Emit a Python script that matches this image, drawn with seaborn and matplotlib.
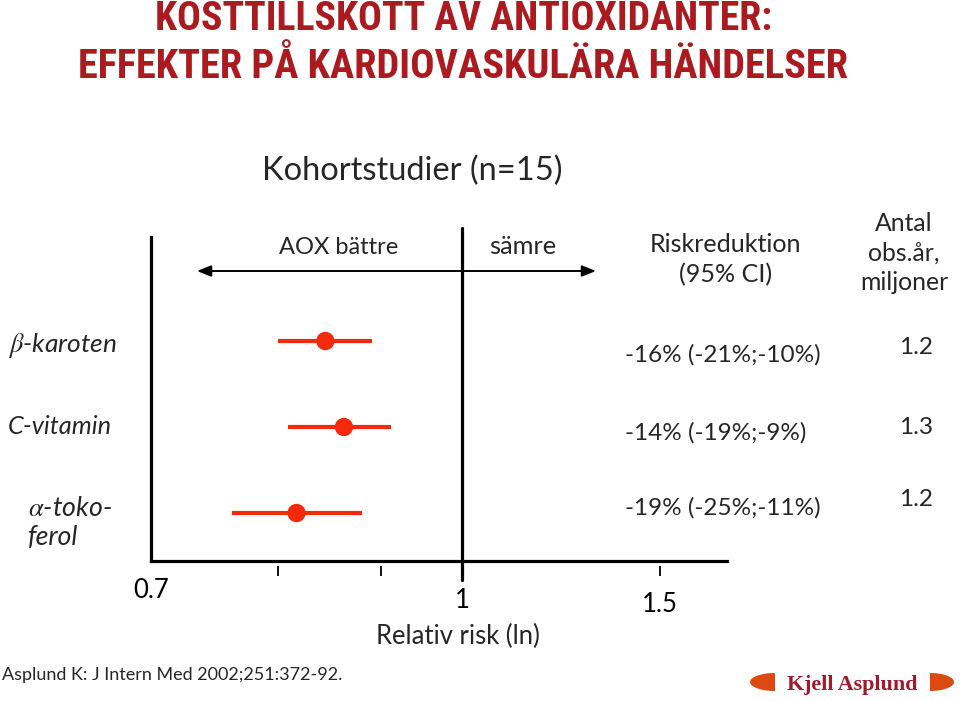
import numpy as np
import pandas as pd
import matplotlib
matplotlib.use("Agg")
import matplotlib.pyplot as plt
import seaborn as sns
from matplotlib.transforms import blended_transform_factory
from matplotlib.patches import Polygon

# ---------------- data ----------------
categories = ["β-karoten", "C-vitamin", "α-tokoferol"]
row_labels = [r"$\beta$-karoten", "C-vitamin", r"$\alpha$-toko-" + "\n" + "ferol"]
relative_risk = [0.846, 0.864, 0.818]
ci_lower = [0.800, 0.810, 0.764]
ci_upper = [0.891, 0.912, 0.882]
risk_reduction = ["-16% (-21%;-10%)", "-14% (-19%;-9%)", "-19% (-25%;-11%)"]
obs_years = ["1.2", "1.3", "1.2"]
tick_values = [0.7, 1, 1.5]
tick_labels = ["0.7", "1", "1.5"]
minor_tick_values = [0.8, 0.9, 1.5]

# axis spacing of the hand-drawn slide (relative risk -> axis position)
knot_rr = [0.6, 0.7, 0.8, 0.9, 1.0, 1.5, 2.0]
knot_pos = [24, 151, 278, 381, 462, 660, 858]

W, H = 960, 701
RED_DOT = "#F5290B"
TITLE_RED = "#AB1A1F"

sns.set_theme(style="white")
plt.rcParams["font.family"] = ["Lato", "DejaVu Sans"]
plt.rcParams["mathtext.fontset"] = "stix"

fig = plt.figure(figsize=(W / 100, H / 100), dpi=100)
renderer = fig.canvas.get_renderer()


def put(xp, yp, s, width=None, size=18, **kw):
    t = fig.text(xp / W, 1 - yp / H, s, fontsize=size, **kw)
    if width:
        bb = t.get_window_extent(renderer)
        t.set_fontsize(size * width / bb.width)
    return t


# ---------------- axes ----------------
ax_left, ax_right, ax_top, ax_bottom = 151, 727, 237, 561
ax = fig.add_axes([ax_left / W, 1 - ax_bottom / H,
                   (ax_right - ax_left) / W, (ax_bottom - ax_top) / H])
ax.set_xscale("function",
              functions=(lambda v: np.interp(v, knot_rr, knot_pos),
                         lambda p: np.interp(p, knot_pos, knot_rr)))
x_max = float(np.interp(ax_right, knot_pos, knot_rr))
ax.set_xlim(0.7, x_max)
row_px0, row_step = 341, 86
ax.set_ylim((ax_bottom - row_px0) / row_step, (ax_top - row_px0) / row_step)

df = pd.DataFrame({"category": categories, "row": np.arange(len(categories)),
                   "rr": relative_risk, "lo": ci_lower, "hi": ci_upper})

ax.hlines(df["row"], df["lo"], df["hi"], color=RED_DOT, lw=3.0, zorder=2)
sns.scatterplot(data=df, x="rr", y="row", ax=ax, s=175, color=RED_DOT,
                edgecolor="none", zorder=3, legend=False)

ax.set_xticks([])
ax.set_yticks([])
ax.set_xlabel("")
ax.set_ylabel("")
for side in ["top", "right"]:
    ax.spines[side].set_visible(False)
for side in ["left", "bottom"]:
    ax.spines[side].set_color("black")
    ax.spines[side].set_linewidth(2.3)

ax_h = ax_bottom - ax_top
ax.axvline(1.0, ymin=(ax_bottom - 580) / ax_h, ymax=(ax_bottom - 228) / ax_h,
           color="black", lw=2.3, clip_on=False, zorder=1)

bt = blended_transform_factory(ax.transData, ax.transAxes)
ax.plot(minor_tick_values, [(ax_bottom - 571) / ax_h] * len(minor_tick_values),
        linestyle="none", marker="|", markersize=7.5, mew=1.3, color="black",
        transform=bt, clip_on=False)
tick_label_y = [591, 600, 605]
for v, lab, yp in zip(tick_values, tick_labels, tick_label_y):
    ax.text(v, (ax_bottom - yp) / ax_h, lab, transform=bt, ha="center",
            va="center", fontsize=18.5, color="black")

# arrow
ax.annotate("", xy=(197, H - 271), xytext=(596, H - 271),
            xycoords="figure pixels", textcoords="figure pixels",
            arrowprops=dict(arrowstyle="<|-|>,head_length=0.7,head_width=0.28",
                        lw=1.4, color="black", shrinkA=0, shrinkB=0))

# ---------------- texts ----------------
title_font = ["Roboto Condensed", "Open Sans Condensed", "Roboto", "DejaVu Sans"]
put(464, 19, "KOSTTILLSKOTT AV ANTIOXIDANTER:", width=618, size=28,
    family=title_font, weight="bold", color=TITLE_RED, ha="center", va="center")
put(463, 67, "EFFEKTER PÅ KARDIOVASKULÄRA HÄNDELSER", width=771, size=28,
    family=title_font, weight="bold", color=TITLE_RED, ha="center", va="center")

put(412, 171, "Kohortstudier (n=15)", width=301, size=24, ha="center", va="center")
put(339, 247, "AOX bättre", width=119, size=18, ha="center", va="center")
put(523, 247, "sämre", width=67, size=18, ha="center", va="center")
put(726, 260, "Riskreduktion\n(95% CI)", width=152, size=18, ha="center",
    va="center", multialignment="center", linespacing=1.35)
put(904, 253, "Antal\nobs.år,\nmiljoner", width=88, size=18, ha="center",
    va="center", multialignment="center", linespacing=1.35)

row_label_x = [8, 8, 28]
row_label_y = [345, 426, 523]
row_label_w = [109, 104, 84]
for lab, xp, yp, wd in zip(row_labels, row_label_x, row_label_y, row_label_w):
    put(xp, yp, lab, width=wd, size=18, style="italic", ha="left", va="center",
        linespacing=1.25)

risk_y = [355, 433, 508]
for s, yp in zip(risk_reduction, risk_y):
    put(625, yp, s, size=17.5, ha="left", va="center")
obs_y = [347, 428, 500]
for s, yp in zip(obs_years, obs_y):
    put(933, yp, s, size=17.5, ha="right", va="center")

put(458, 636, "Relativ risk (ln)", width=164, size=18, ha="center", va="center")
put(2, 675, "Asplund K: J Intern Med 2002;251:372-92.", width=342, size=14,
    ha="left", va="center")

# logo
put(852, 685, "Kjell Asplund", width=130, size=16, family=["Liberation Serif", "DejaVu Serif"],
    weight="bold", color="#A3182A", ha="center", va="center")
LOGO = "#DC4A12"
th = np.linspace(-np.pi / 2, np.pi / 2, 40)
left_pts = np.column_stack([775 - 25 * np.cos(th), 682 + 9 * np.sin(th)])
right_pts = np.column_stack([930 + 24 * np.cos(th), 682 + 9 * np.sin(th)])
for pts in (left_pts, right_pts):
    fpts = np.column_stack([pts[:, 0] / W, 1 - pts[:, 1] / H])
    fig.add_artist(Polygon(fpts, closed=True, transform=fig.transFigure,
                           facecolor=LOGO, edgecolor="none"))

fig.savefig("out.png", dpi=100)
